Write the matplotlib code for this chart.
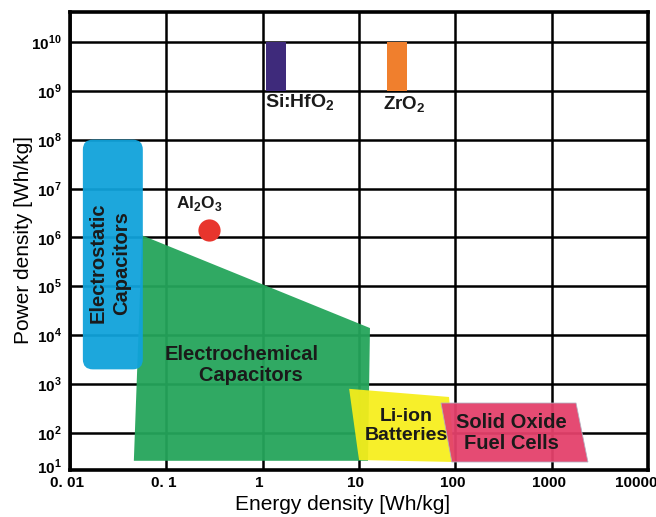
import numpy as np
import matplotlib
matplotlib.use("Agg")
import matplotlib.pyplot as plt
import matplotlib.transforms as mtransforms
from matplotlib.patches import Polygon, FancyBboxPatch, Rectangle

plt.rcParams['font.family'] = ['Liberation Sans', 'DejaVu Sans']
plt.rcParams['mathtext.fontset'] = 'custom'
plt.rcParams['mathtext.rm'] = 'Liberation Sans'
plt.rcParams['mathtext.bf'] = 'Liberation Sans:bold'

# ---- data (energy density Wh/kg, power density) ----
x_ticks = [0.01, 0.1, 1, 10, 100, 1000, 10000]
x_tick_labels = ["0. 01", "0. 1", "1", "10", "100", "1000", "10000"]
y_exponents = [1, 2, 3, 4, 5, 6, 7, 8, 9, 10]

electrostatic_x = [0.0136, 0.057]
electrostatic_y = [2.0e3, 1.0e8]

electrochem_x = [0.056, 13.0, 12.4, 0.046]
electrochem_y = [1.1e6, 1.4e4, 27, 27]

liion_x = [7.9, 86, 99, 10]
liion_y = [800, 545, 25.5, 28]

sofc_x = [71, 1790, 2380, 92]
sofc_y = [410, 410, 25.5, 25.5]

hfo2_x = [1.08, 1.75]
hfo2_y = [1e9, 1e10]
zro2_x = [19.5, 31.5]
zro2_y = [1e9, 1e10]

al2o3_x = 0.277
al2o3_y = 1.4e6

xlim = (0.01, 10000)
ylim = (10 ** 1.243, 10 ** 10.61)

fig = plt.figure(figsize=(6.56, 5.17), dpi=100)
ax = fig.add_axes([70 / 656, 47 / 517, 578 / 656, 458 / 517])
ax.set_xscale('log')
ax.set_yscale('log')
ax.set_xlim(*xlim)
ax.set_ylim(*ylim)

# grid / ticks
ax.set_axisbelow(True)
ax.minorticks_off()
ax.set_xticks(x_ticks)
ax.set_xticklabels(x_tick_labels, fontsize=11, fontweight='bold')
ytick_pos = [10.0 ** e for e in y_exponents[1:]]
ytick_lab = [r'$\mathbf{10}^{\mathbf{%d}}$' % e for e in y_exponents[1:]]
ax.set_yticks([ylim[0]] + ytick_pos)
ax.set_yticklabels([r'$\mathbf{10}^{\mathbf{%d}}$' % y_exponents[0]] + ytick_lab, fontsize=11)
ax.tick_params(length=0)
ax.tick_params(axis='x', pad=4)
ax.tick_params(axis='y', pad=6)
ax.grid(True, which='major', color='black', linewidth=1.8)
for s in ax.spines.values():
    s.set_linewidth(2.6)

# shift x tick labels slightly to the left like the reference
xl = ax.get_xticklabels()
for i, lab in enumerate(xl):
    dx = -12 if i == len(xl) - 1 else -3
    lab.set_transform(lab.get_transform() + mtransforms.ScaledTranslation(dx / 100, 0, fig.dpi_scale_trans))
# lift the bottom y label a little
yl = ax.get_yticklabels()
yl[0].set_transform(yl[0].get_transform() + mtransforms.ScaledTranslation(0, 4 / 100, fig.dpi_scale_trans))

def to_axes(x, y):
    disp = ax.transData.transform(np.column_stack([x, y]))
    return ax.transAxes.inverted().transform(disp)

# Electrochemical capacitors (green)
ax.add_patch(Polygon(np.column_stack([electrochem_x, electrochem_y]), closed=True,
                     facecolor='#25a55b', edgecolor='none', alpha=0.95, zorder=2))
# Electrostatic capacitors (blue rounded box)
p = to_axes(electrostatic_x, electrostatic_y)
W, H = 578.0, 458.0
r = 10.0 / W
ax.add_patch(FancyBboxPatch((p[0, 0] + r, p[0, 1] + r * W / H),
                            (p[1, 0] - p[0, 0]) - 2 * r, (p[1, 1] - p[0, 1]) - 2 * r * W / H,
                            boxstyle='round,pad=%f,rounding_size=%f' % (r, r),
                            mutation_aspect=W / H,
                            transform=ax.transAxes, facecolor='#10a2da', edgecolor='none',
                            alpha=0.95, zorder=3))
# Li-ion (yellow)
ax.add_patch(Polygon(np.column_stack([liion_x, liion_y]), closed=True,
                     facecolor='#f7ee1a', edgecolor='none', alpha=0.93, zorder=3))
# SOFC (red)
ax.add_patch(Polygon(np.column_stack([sofc_x, sofc_y]), closed=True,
                     facecolor='#e4416b', edgecolor='#b0b0c0', linewidth=0.6, alpha=0.95, zorder=4))
# bars
ax.add_patch(Rectangle((hfo2_x[0], hfo2_y[0]), hfo2_x[1] - hfo2_x[0], hfo2_y[1] - hfo2_y[0],
                       facecolor='#3e2a7b', edgecolor='none', zorder=3))
ax.add_patch(Rectangle((zro2_x[0], zro2_y[0]), zro2_x[1] - zro2_x[0], zro2_y[1] - zro2_y[0],
                       facecolor='#f07f2d', edgecolor='none', zorder=3))
# Al2O3 point
ax.plot([al2o3_x], [al2o3_y], 'o', color='#e8352d', markersize=16, markeredgewidth=0, zorder=5)

# labels
tk = dict(fontweight='bold', color='#1a1a1a', zorder=6)
ax.text(1.05, 10 ** 8.75, r'Si:HfO$_\mathbf{2}$', ha='left', va='center', fontsize=14, **tk)
ax.text(29.3, 10 ** 8.71, r'ZrO$_\mathbf{2}$', ha='center', va='center', fontsize=13.5, **tk)
ax.text(0.218, 10 ** 6.70, r'Al$_\mathbf{2}$O$_\mathbf{3}$', ha='center', va='center', fontsize=12.5, **tk)
ax.text(0.026, 10 ** 5.48, 'Electrostatic\nCapacitors', rotation=90, ha='center', va='center',
        fontsize=14.5, linespacing=1.3, **tk)
ax.text(0.61, 10 ** 3.39, 'Electrochemical\n   Capacitors', ha='center', va='center',
        fontsize=14.5, linespacing=1.15, **tk)
ax.text(30.8, 10 ** 2.14, 'Li-ion\nBatteries', ha='center', va='center',
        fontsize=14, linespacing=1.15, **tk)
ax.text(378, 10 ** 2.0, 'Solid Oxide\nFuel Cells', ha='center', va='center',
        fontsize=14.5, linespacing=1.15, **tk)

fig.text(343 / 656, 1 - 505 / 517, 'Energy density [Wh/kg]', ha='center', va='center', fontsize=15)
fig.text(24 / 656, 1 - 240 / 517, 'Power density [Wh/kg]', ha='center', va='center',
         rotation=90, fontsize=15)

fig.savefig('out.png', dpi=100)
